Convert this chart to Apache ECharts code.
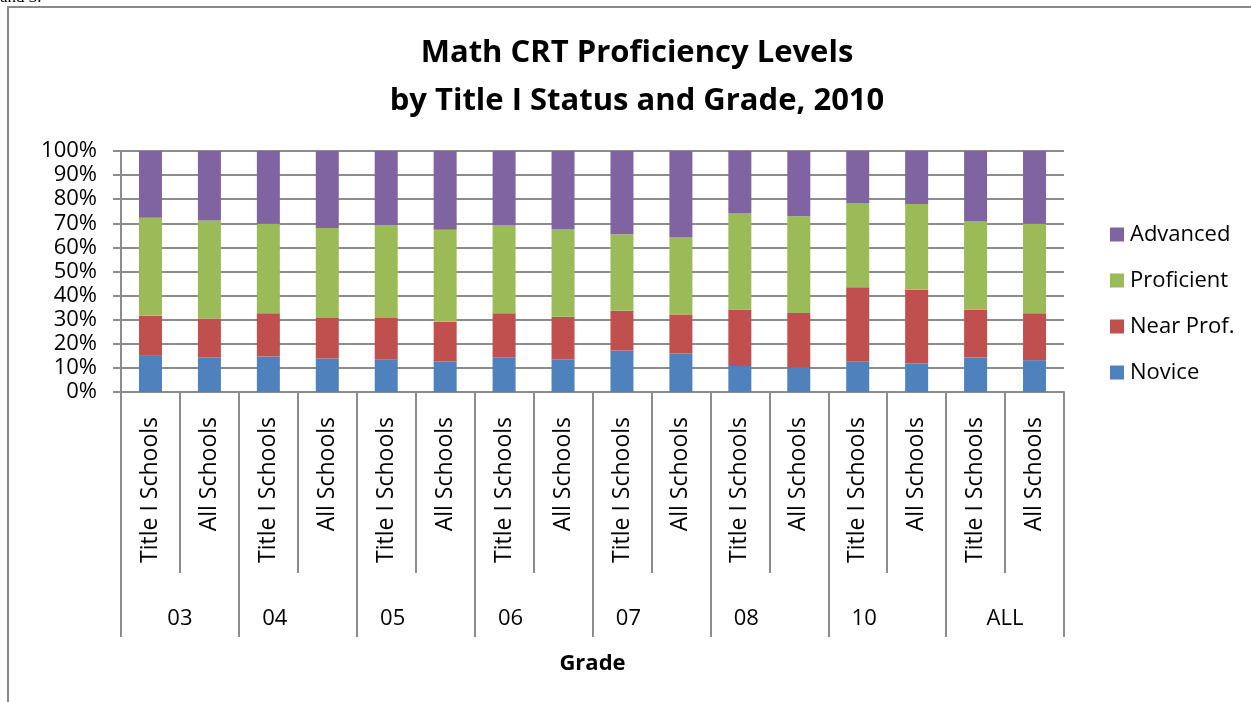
<!DOCTYPE html>
<html>
<head>
<meta charset="utf-8">
<script src="https://cdn.jsdelivr.net/npm/echarts@6/dist/echarts.min.js"></script>
<style>
html,body{margin:0;padding:0;background:#fff;}
#chart{width:1251px;height:702px;}
</style>
</head>
<body>
<div id="chart"></div>
<script>
const schools = ['Title I Schools','All Schools','Title I Schools','All Schools','Title I Schools','All Schools','Title I Schools','All Schools','Title I Schools','All Schools','Title I Schools','All Schools','Title I Schools','All Schools','Title I Schools','All Schools'];
const grades = ['03','04','05','06','07','08','10','ALL'];
const novice     = [15.0,14.3,14.7,13.9,13.6,12.7,14.4,13.5,17.2,16.0,10.8,10.1,12.7,11.9,14.3,13.2];
const nearProf   = [16.6,16.2,18.0,16.8,17.1,16.4,18.3,17.7,16.5,16.2,23.4,22.7,30.8,30.5,19.8,19.5];
const proficient = [40.7,40.7,37.1,37.3,38.6,38.2,36.4,36.4,31.8,31.9,39.9,40.1,34.9,35.6,36.9,37.1];
const advanced   = [27.7,28.8,30.2,32.0,30.7,32.7,30.9,32.4,34.5,35.9,25.9,27.1,21.6,22.0,29.0,30.2];
const yTicks = [0,10,20,30,40,50,60,70,80,90,100];

const FONT = '"Open Sans", "Noto Sans", sans-serif';
const GRAY = '#8c8c8c';
const chart = echarts.init(document.getElementById('chart'));

function bar(name, data, color){
  return {name, type:'bar', stack:'all', data, barWidth:23, xAxisIndex:0,
    itemStyle:{color}, emphasis:{disabled:true}};
}

chart.setOption({
  animation:false,
  textStyle:{fontFamily:FONT},
  title:{
    text:'Math CRT Proficiency Levels\nby Title I Status and Grade, 2010',
    left:632, top:24, textAlign:'center',
    textStyle:{fontFamily:FONT, fontWeight:'bold', fontSize:31, lineHeight:48, color:'#000'}
  },
  graphic:[
    {type:'rect', shape:{x:8, y:7, width:1400, height:900}, style:{fill:'none', stroke:'#8a8a8a', lineWidth:2}, silent:true},
    {type:'text', left:0, top:-11, style:{text:'and 3.', font:'17px "Liberation Serif", serif', fill:'#000'}}
  ],
  legend:{
    orient:'vertical', left:1105, top:214, itemWidth:14, itemHeight:14, itemGap:15,
    data:['Advanced','Proficient','Near Prof.','Novice'],
    textStyle:{fontFamily:FONT, fontSize:22, lineHeight:31, color:'#000', padding:[0,0,0,1]},
    icon:'rect'
  },
  grid:{left:121, right:187, top:151, bottom:310, containLabel:false},
  xAxis:[
    {type:'category', data:schools, position:'bottom',
     axisLine:{lineStyle:{color:GRAY, width:2}},
     axisTick:{show:true, length:181, interval:0, lineStyle:{color:GRAY, width:2}},
     axisLabel:{rotate:90, interval:0, margin:25, fontSize:23, color:'#000', fontFamily:FONT}
    },
    {type:'category', data:grades, position:'bottom',
     axisLine:{show:false},
     axisTick:{show:true, length:245, interval:0, lineStyle:{color:GRAY, width:2}},
     axisLabel:{interval:0, margin:216, fontSize:22, color:'#000', fontFamily:FONT,
       formatter:function(v, i){ return (i===0 || i===grades.length-1) ? v : '{a|'+v+'}'; },
       rich:{a:{fontSize:22, fontFamily:FONT, color:'#000', padding:[0,46,0,0]}}},
     name:'Grade', nameLocation:'middle', nameGap:261,
     nameTextStyle:{fontFamily:FONT, fontWeight:'bold', fontSize:22, color:'#000'}
    }
  ],
  yAxis:{
    type:'value', min:0, max:100, interval:10,
    axisLine:{show:true, lineStyle:{color:GRAY, width:2}},
    axisTick:{show:true, length:8, lineStyle:{color:GRAY, width:2}},
    splitLine:{lineStyle:{color:GRAY, width:2}},
    axisLabel:{formatter:function(v){ return yTicks.indexOf(v)>=0 ? v+'%' : ''; }, fontSize:22, color:'#000', margin:24, fontFamily:FONT}
  },
  series:[
    bar('Novice', novice, '#4f81bd'),
    bar('Near Prof.', nearProf, '#c0504d'),
    bar('Proficient', proficient, '#9bbb59'),
    bar('Advanced', advanced, '#8064a2')
  ]
});
</script>
</body>
</html>
